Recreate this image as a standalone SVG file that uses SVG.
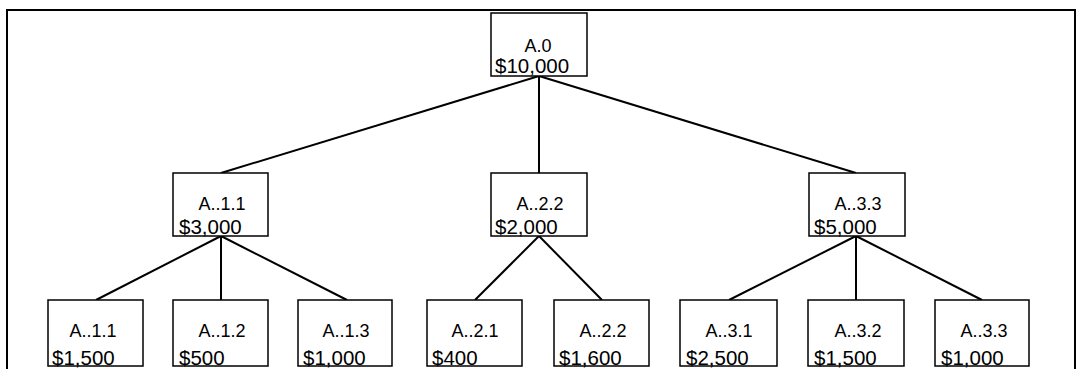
<svg xmlns="http://www.w3.org/2000/svg" width="1077" height="369" viewBox="0 0 1077 369">
<style>
.box{fill:#fff;stroke:#000;stroke-width:1.5}
.frame{fill:none;stroke:#000;stroke-width:2}
.conn line{stroke:#000;stroke-width:2}
.lbl{font-family:"Liberation Sans",Arial,sans-serif;font-size:18px;fill:#000;text-anchor:middle}
.amt{font-family:"Liberation Sans",Arial,sans-serif;font-size:20.5px;fill:#000}
</style>
<rect width="1077" height="369" fill="#fff"/>
<rect class="frame" x="7" y="10" width="1068" height="380"/>
<g id="connectors" class="conn">
<line x1="539" y1="76" x2="221" y2="173"/>
<line x1="539" y1="76" x2="539" y2="173"/>
<line x1="539" y1="76" x2="856" y2="173"/>
<line x1="221" y1="236" x2="96" y2="300"/>
<line x1="221" y1="236" x2="221" y2="300"/>
<line x1="221" y1="236" x2="347" y2="300"/>
<line x1="539" y1="236" x2="475" y2="300"/>
<line x1="539" y1="236" x2="602" y2="300"/>
<line x1="856" y1="236" x2="729" y2="300"/>
<line x1="856" y1="236" x2="856" y2="300"/>
<line x1="856" y1="236" x2="982" y2="300"/>
</g>
<g id="n_A0"><rect class="box" x="491" y="13" width="96" height="63"/><text class="lbl" x="538" y="52">A.0</text><text class="amt" x="495" y="73">$10,000</text></g>
<g id="n_A11"><rect class="box" x="173" y="173" width="95" height="63"/><text class="lbl" x="222" y="210">A..1.1</text><text class="amt" x="179" y="234">$3,000</text></g>
<g id="n_A22"><rect class="box" x="491" y="173" width="96" height="63"/><text class="lbl" x="540" y="210">A..2.2</text><text class="amt" x="495" y="234">$2,000</text></g>
<g id="n_A33"><rect class="box" x="809" y="173" width="96" height="63"/><text class="lbl" x="858" y="210">A..3.3</text><text class="amt" x="814" y="234">$5,000</text></g>
<g id="n_A11b"><rect class="box" x="48" y="300" width="95" height="66"/><text class="lbl" x="93" y="337">A..1.1</text><text class="amt" x="52" y="365">$1,500</text></g>
<g id="n_A12b"><rect class="box" x="173" y="300" width="95" height="66"/><text class="lbl" x="222" y="337">A..1.2</text><text class="amt" x="179" y="365">$500</text></g>
<g id="n_A13b"><rect class="box" x="298" y="300" width="94" height="66"/><text class="lbl" x="346" y="337">A..1.3</text><text class="amt" x="303" y="365">$1,000</text></g>
<g id="n_A21b"><rect class="box" x="427" y="300" width="95" height="66"/><text class="lbl" x="475" y="337">A..2.1</text><text class="amt" x="432" y="365">$400</text></g>
<g id="n_A22b"><rect class="box" x="554" y="300" width="95" height="66"/><text class="lbl" x="603" y="337">A..2.2</text><text class="amt" x="559" y="365">$1,600</text></g>
<g id="n_A31b"><rect class="box" x="680" y="300" width="97" height="66"/><text class="lbl" x="729" y="337">A..3.1</text><text class="amt" x="686" y="365">$2,500</text></g>
<g id="n_A32b"><rect class="box" x="808" y="300" width="96" height="66"/><text class="lbl" x="858" y="337">A..3.2</text><text class="amt" x="814" y="365">$1,500</text></g>
<g id="n_A33b"><rect class="box" x="935" y="300" width="94" height="66"/><text class="lbl" x="984" y="337">A..3.3</text><text class="amt" x="941" y="365">$1,000</text></g>
</svg>
